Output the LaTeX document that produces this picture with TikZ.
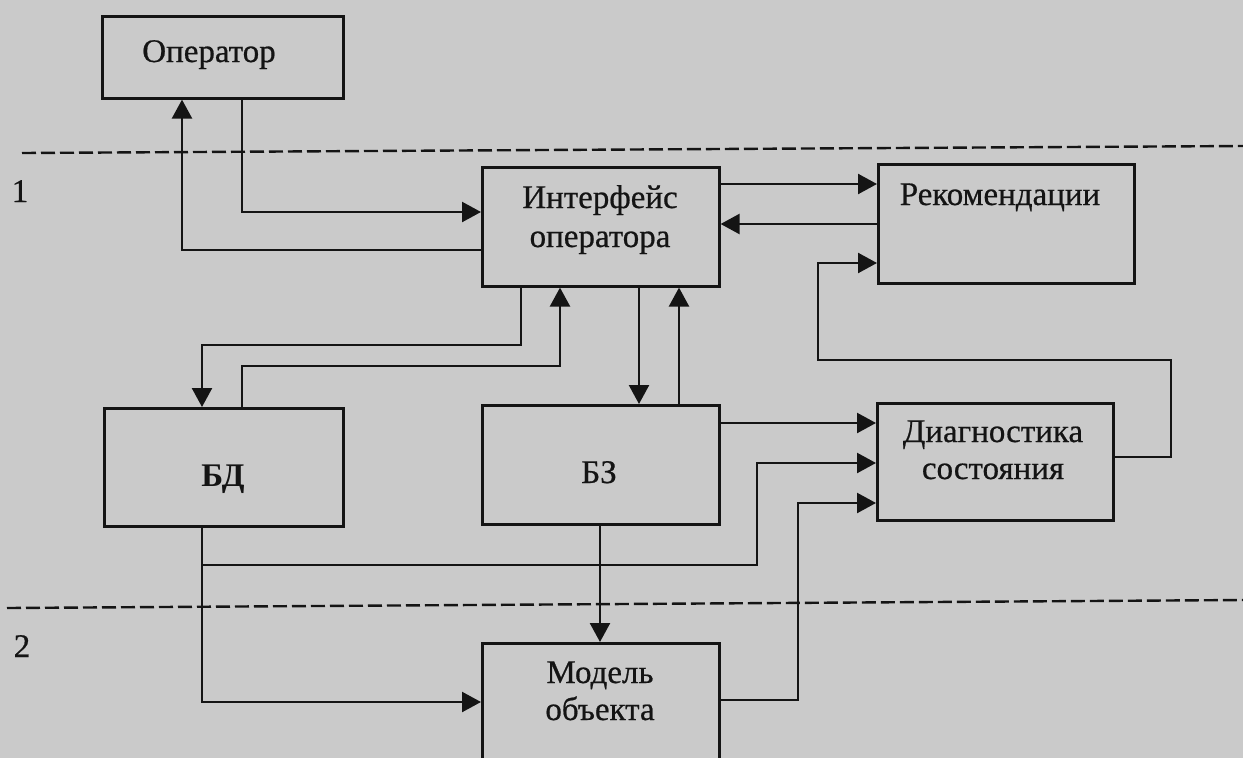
\documentclass[tikz,border=0pt]{standalone}
\usepackage{fontspec}
\setmainfont{Liberation Serif}
\newfontfamily\lblfont[FakeBold=0.6]{Liberation Serif}
\usetikzlibrary{arrows.meta}
\definecolor{paper}{RGB}{202,202,202}
\definecolor{ink}{RGB}{20,20,20}
\begin{document}
\begin{tikzpicture}[x=1pt,y=-1pt,
  box/.style={draw=ink,line width=2.6pt,inner sep=0pt,anchor=north west},
  lbl/.style={text=ink,font=\fontsize{33}{40}\lblfont,inner sep=0pt,anchor=base},
  conn/.style={draw=ink,line width=2.4pt},
  arr/.style={conn,-{Triangle[length=19pt,width=20pt]}},
  sep/.style={draw=ink,line width=2.4pt,dash pattern=on 14pt off 5pt}]
\useasboundingbox (0,0) rectangle (1243,758);
\clip (0,0) rectangle (1243,758);
\fill[paper] (0,0) rectangle (1243,758);

% level separators
\coordinate (s1a) at (22,153);
\coordinate (s1b) at (1243,146);
\coordinate (s2a) at (7,608);
\coordinate (s2b) at (1243,600);
\draw[sep] (s1a) -- (s1b);
\draw[sep] (s2a) -- (s2b);

% boxes
\node[box,minimum width=241pt,minimum height=82pt] (op) at (101,15) {};
\node[box,minimum width=237pt,minimum height=119pt] (int) at (481,166) {};
\node[box,minimum width=256pt,minimum height=119pt] (rek) at (877,163) {};
\node[box,minimum width=239pt,minimum height=118pt] (bd) at (103,407) {};
\node[box,minimum width=237pt,minimum height=119pt] (bz) at (481,404) {};
\node[box,minimum width=236pt,minimum height=117pt] (diag) at (876,402) {};
\node[box,minimum width=237pt,minimum height=160pt] (mod) at (481,642) {};

% texts
\node[lbl] (op-t) at (209,62) {Оператор};
\node[lbl] (int-t1) at (600,208) {Интерфейс};
\node[lbl] (int-t2) at (600,247) {оператора};
\node[lbl] (rek-t) at (1000,205) {Рекомендации};
\node[lbl] (diag-t1) at (993,442) {Диагностика};
\node[lbl] (diag-t2) at (993,479) {состояния};
\node[lbl,font=\fontsize{33}{40}\selectfont\bfseries] (bd-t) at (223,486) {БД};
\node[lbl] (bz-t) at (599,483) {БЗ};
\node[lbl] (mod-t1) at (600,683) {Модель};
\node[lbl] (mod-t2) at (600,720) {объекта};
\node[lbl] (n1) at (20,202) {1};
\node[lbl] (n2) at (22,657) {2};

% connectors
\draw[arr] (int.west |- 0,250) -| (op.south -| 182,0);
\draw[arr] (op.south -| 242,0) |- (int.west |- 0,212);
\draw[arr] (int.east |- 0,184) -- (rek.west |- 0,184);
\draw[arr] (rek.west |- 0,224) -- (int.east |- 0,224);
\draw[arr] (int.south -| 521,0) |- (202,345) -- (bd.north -| 202,0);
\draw[arr] (bd.north -| 242,0) |- (560,366) -- (int.south -| 560,0);
\draw[arr] (int.south -| 639,0) -- (bz.north -| 639,0);
\draw[arr] (bz.north -| 679,0) -- (int.south -| 679,0);
\draw[arr] (bz.south -| 600,0) -- (mod.north -| 600,0);
\draw[arr] (bd.south -| 202,0) |- (mod.west |- 0,702);
\coordinate (br) at (202,565);
\draw[arr] (br) -| (757,463) -- (diag.west |- 0,463);
\draw[arr] (bz.east |- 0,423) -- (diag.west |- 0,423);
\draw[arr] (mod.east |- 0,700) -| (798,503) -- (diag.west |- 0,503);
\draw[arr] (diag.east |- 0,457) -| (1171,360) -| (818,263) -- (rek.west |- 0,263);
\end{tikzpicture}
\end{document}
